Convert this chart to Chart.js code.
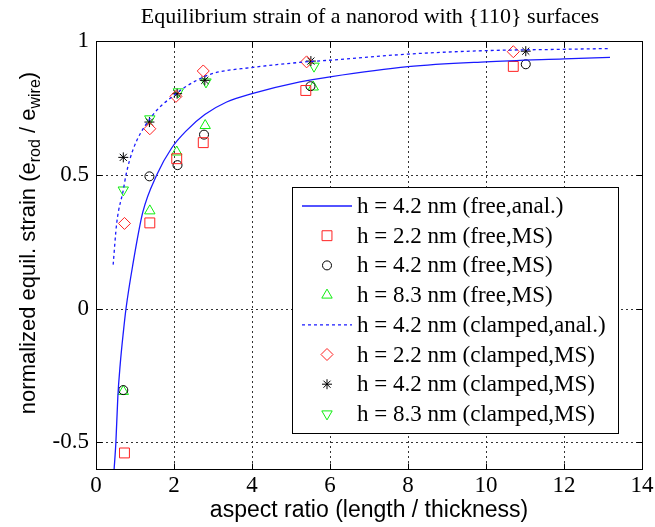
<!DOCTYPE html>
<html>
<head>
<meta charset="utf-8">
<script src="https://cdn.jsdelivr.net/npm/chart.js@4/dist/chart.umd.min.js"></script>
<style>
    html, body { margin: 0; padding: 0; background: #fff; }
    #wrap { width: 655px; height: 527px; }
</style>
</head>
<body>
<div id="wrap"><canvas id="chart" width="655" height="527"></canvas></div>
<script>
// ================= DATA =================
const xTicks = [0, 2, 4, 6, 8, 10, 12, 14];
const yTicks = [-0.5, 0, 0.5, 1];

// analytical curves
const freeAnalX = [0.46, 0.51, 0.56, 0.62, 0.70, 0.77, 0.94, 1.2, 1.56, 1.94, 2.32, 2.79, 3.35, 4.0, 5.23, 6.0, 8.0, 10.0, 12.0, 13.18];
const freeAnalY = [-0.61, -0.5, -0.33, -0.21, -0.09, 0, 0.16, 0.36, 0.5, 0.6, 0.665, 0.725, 0.772, 0.803, 0.847, 0.866, 0.904, 0.922, 0.933, 0.939];
const clampAnalX = [0.44, 0.53, 0.70, 0.77, 0.94, 1.38, 2.05, 2.58, 3.0, 4.0, 5.23, 6.26, 8.0, 10.0, 12.0, 13.18];
const clampAnalY = [0.164, 0.318, 0.443, 0.5, 0.59, 0.709, 0.803, 0.853, 0.879, 0.901, 0.92, 0.931, 0.951, 0.964, 0.969, 0.972];

// molecular statics points, free ends
const free22X = [0.73, 1.38, 2.07, 2.75, 5.38, 10.7];
const free22Y = [-0.54, 0.32, 0.56, 0.62, 0.815, 0.905];
const free42X = [0.70, 1.37, 2.09, 2.77, 5.5, 11.02];
const free42Y = [-0.305, 0.494, 0.536, 0.65, 0.831, 0.913];
const free83X = [0.70, 1.38, 2.07, 2.8, 5.57];
const free83Y = [-0.31, 0.365, 0.585, 0.684, 0.828];

// molecular statics points, clamped ends
const clamp22X = [0.73, 1.38, 2.05, 2.75, 5.4, 10.7];
const clamp22Y = [0.318, 0.672, 0.793, 0.888, 0.922, 0.96];
const clamp42X = [0.70, 1.37, 2.08, 2.79, 5.51, 11.02];
const clamp42Y = [0.565, 0.697, 0.803, 0.853, 0.925, 0.962];
const clamp83X = [0.70, 1.38, 2.11, 2.82, 5.59];
const clamp83Y = [0.443, 0.709, 0.81, 0.847, 0.906];

const BLUE = "#1a1aff";
const RED = "#ff2020";
const GREEN = "#10ee10";
const BLACK = "#000000";

function pts(xs, ys) {
    return xs.map((x, i) => ({ x: x, y: ys[i] }));
}

function lineSet(label, xs, ys, dash) {
    return {
        label: label,
        data: pts(xs, ys),
        showLine: true,
        borderColor: BLUE,
        borderWidth: 1.3,
        borderDash: dash,
        pointRadius: 0,
        fill: false,
        cubicInterpolationMode: "monotone"
    };
}

function markerSet(label, xs, ys, color, style, radius, rotation) {
    return {
        label: label,
        data: pts(xs, ys),
        showLine: false,
        borderColor: color,
        backgroundColor: "rgba(0,0,0,0)",
        borderWidth: 1,
        pointStyle: style,
        pointRadius: radius,
        pointHoverRadius: radius,
        pointRotation: rotation || 0
    };
}

const datasets = [
    lineSet("h = 4.2 nm (free,anal.)", freeAnalX, freeAnalY, []),
    markerSet("h = 2.2 nm (free,MS)", free22X, free22Y, RED, "rect", 7),
    markerSet("h = 4.2 nm (free,MS)", free42X, free42Y, BLACK, "circle", 4.5),
    markerSet("h = 8.3 nm (free,MS)", free83X, free83Y, GREEN, "triangle", 6),
    lineSet("h = 4.2 nm (clamped,anal.)", clampAnalX, clampAnalY, [3, 3]),
    markerSet("h = 2.2 nm (clamped,MS)", clamp22X, clamp22Y, RED, "rectRot", 6),
    markerSet("h = 4.2 nm (clamped,MS)", clamp42X, clamp42Y, BLACK, "star", 5),
    markerSet("h = 8.3 nm (clamped,MS)", clamp83X, clamp83Y, GREEN, "triangle", 6, 180)
];

// ================= MATLAB-LIKE DECORATION =================
const SERIF = '"Liberation Serif", "Times New Roman", serif';
const SANS = '"Liberation Sans", Arial, sans-serif';

function drawMarker(ctx, ds, x, y) {
    const opts = {
        pointStyle: ds.pointStyle,
        radius: ds.pointRadius,
        rotation: ds.pointRotation || 0,
        borderWidth: ds.borderWidth
    };
    ctx.strokeStyle = ds.borderColor;
    ctx.fillStyle = ds.backgroundColor;
    ctx.lineWidth = ds.borderWidth;
    Chart.helpers.drawPoint(ctx, opts, x, y);
}

const matlabPlugin = {
    id: "matlabLook",
    beforeDatasetsDraw(chart) {
        const { ctx, chartArea: a, scales: { x, y } } = chart;
        ctx.save();
        ctx.strokeStyle = "#333";
        ctx.lineWidth = 1;
        ctx.setLineDash([2, 3]);
        xTicks.forEach(v => {
            const px = Math.round(x.getPixelForValue(v)) + 0.5;
            if (px <= a.left + 1 || px >= a.right - 1) return;
            ctx.beginPath();
            ctx.moveTo(px, a.top);
            ctx.lineTo(px, a.bottom);
            ctx.stroke();
        });
        yTicks.forEach(v => {
            const py = Math.round(y.getPixelForValue(v)) + 0.5;
            if (py <= a.top + 1 || py >= a.bottom - 1) return;
            ctx.beginPath();
            ctx.moveTo(a.left, py);
            ctx.lineTo(a.right, py);
            ctx.stroke();
        });
        ctx.restore();
    },
    afterDatasetsDraw(chart) {
        const { ctx, chartArea: a, scales: { x, y } } = chart;
        ctx.save();

        // frame + inward ticks
        ctx.strokeStyle = "#000";
        ctx.lineWidth = 1;
        ctx.setLineDash([]);
        const L = Math.round(a.left) + 0.5, R = Math.round(a.right) + 0.5;
        const T = Math.round(a.top) + 0.5, B = Math.round(a.bottom) + 0.5;
        ctx.strokeRect(L, T, R - L, B - T);
        const tl = 6;
        ctx.beginPath();
        xTicks.forEach(v => {
            const px = Math.round(x.getPixelForValue(v)) + 0.5;
            ctx.moveTo(px, B); ctx.lineTo(px, B - tl);
            ctx.moveTo(px, T); ctx.lineTo(px, T + tl);
        });
        yTicks.forEach(v => {
            const py = Math.round(y.getPixelForValue(v)) + 0.5;
            ctx.moveTo(L, py); ctx.lineTo(L + tl, py);
            ctx.moveTo(R, py); ctx.lineTo(R - tl, py);
        });
        ctx.stroke();

        // legend box
        const lx = 292.5, ly = 187.5, lw = 326, lh = 246;
        ctx.fillStyle = "#fff";
        ctx.fillRect(lx, ly, lw, lh);
        ctx.strokeRect(lx, ly, lw, lh);
        ctx.font = "23px " + SERIF;
        ctx.textBaseline = "middle";
        ctx.textAlign = "left";
        chart.data.datasets.forEach((ds, i) => {
            const ry = 206 + i * 29.7;
            if (ds.showLine) {
                ctx.save();
                ctx.strokeStyle = ds.borderColor;
                ctx.lineWidth = ds.borderWidth;
                ctx.setLineDash(ds.borderDash);
                ctx.beginPath();
                ctx.moveTo(302, ry);
                ctx.lineTo(352, ry);
                ctx.stroke();
                ctx.restore();
            } else {
                ctx.save();
                drawMarker(ctx, ds, 327, ry);
                ctx.restore();
            }
            ctx.fillStyle = "#000";
            ctx.fillText(ds.label, 357, ry + 1);
        });
        ctx.restore();
    },
    afterDraw(chart) {
        const { ctx, chartArea: a } = chart;
        ctx.save();
        ctx.fillStyle = "#000";

        // title
        ctx.font = "22px " + SERIF;
        ctx.textAlign = "center";
        ctx.textBaseline = "middle";
        ctx.fillText("Equilibrium strain of a nanorod with {110} surfaces", 370, 17);

        // x axis title
        ctx.font = "23px " + SANS;
        ctx.fillText("aspect ratio (length / thickness)", (a.left + a.right) / 2, 511);

        // y axis title with subscripts
        const parts = [
            { t: "normalized equil. strain (e", sub: false },
            { t: "rod", sub: true },
            { t: " / e", sub: false },
            { t: "wire", sub: true },
            { t: ")", sub: false }
        ];
        const mainFont = "22px " + SANS, subFont = "16px " + SANS;
        let total = 0;
        parts.forEach(p => {
            ctx.font = p.sub ? subFont : mainFont;
            p.w = ctx.measureText(p.t).width;
            total += p.w;
        });
        ctx.translate(27, 243);
        ctx.rotate(-Math.PI / 2);
        ctx.textAlign = "left";
        ctx.textBaseline = "alphabetic";
        let cx = -total / 2;
        parts.forEach(p => {
            ctx.font = p.sub ? subFont : mainFont;
            ctx.fillText(p.t, cx, p.sub ? 13 : 8);
            cx += p.w;
        });
        ctx.restore();
    }
};

// ================= CHART =================
new Chart(document.getElementById("chart").getContext("2d"), {
    type: "scatter",
    data: { datasets: datasets },
    options: {
        responsive: false,
        animation: false,
        layout: { padding: { left: 36, right: 13, top: 41, bottom: 0 } },
        plugins: {
            legend: { display: false },
            title: { display: false },
            tooltip: { enabled: false }
        },
        scales: {
            x: {
                type: "linear",
                min: 0,
                max: 14,
                afterBuildTicks: s => { s.ticks = xTicks.map(v => ({ value: v })); },
                afterFit: s => { s.height = 58; s.paddingLeft = 0; s.paddingRight = 0; },
                grid: { display: false, drawTicks: false },
                border: { display: false },
                ticks: {
                    autoSkip: false,
                    maxRotation: 0,
                    padding: 3,
                    color: "#000",
                    font: { family: SERIF, size: 23 },
                    callback: v => String(v)
                }
            },
            y: {
                type: "linear",
                min: -0.6,
                max: 1,
                afterBuildTicks: s => { s.ticks = yTicks.map(v => ({ value: v })); },
                afterFit: s => { s.width = 60; s.paddingTop = 0; s.paddingBottom = 0; },
                grid: { display: false, drawTicks: false },
                border: { display: false },
                ticks: {
                    autoSkip: false,
                    padding: 7,
                    color: "#000",
                    font: { family: SERIF, size: 23 },
                    callback: v => String(v)
                }
            }
        }
    },
    plugins: [matlabPlugin]
});
</script>
</body>
</html>
